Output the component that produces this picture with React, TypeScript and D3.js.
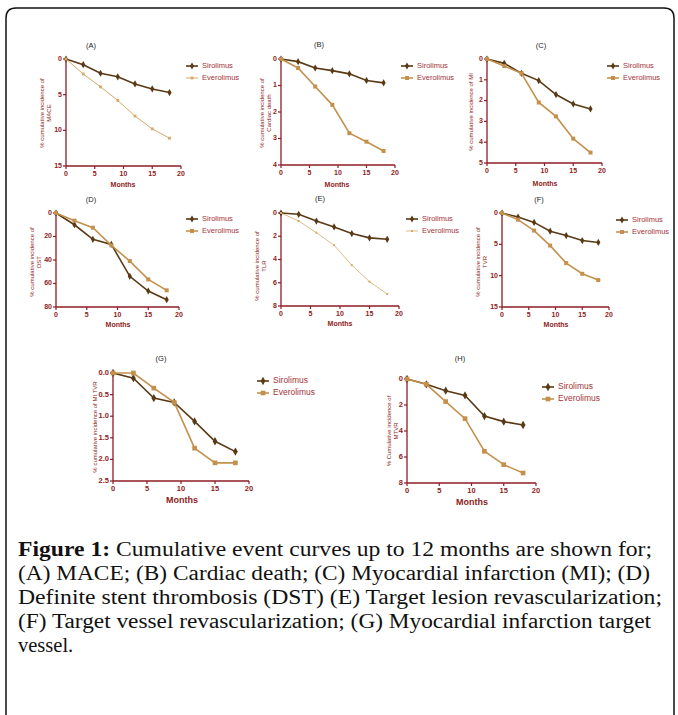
import React from "react";
import * as d3 from "d3";

const months = [0, 3, 6, 9, 12, 15, 18];
const xTicks = [0, 5, 10, 15, 20];

const panelIds = ["A", "B", "C", "D", "E", "F", "G", "H"];
const yLabels: string[][] = [
  ["% cumulative incidence of", "MACE"],
  ["% cumulative incidence of", "Cardiac death"],
  ["% cumulative incidence of MI"],
  ["% cumulative incidence of", "DST"],
  ["% cumulative incidence of", "TLR"],
  ["% cumulative incidence of", "TVR"],
  ["% cumulative incidence of MI TVR"],
  ["% Cumulative incidence of", "MTVR"],
];
const yMaxes = [15, 4, 5, 80, 8, 15, 2.5, 8];
const yTickLists: number[][] = [
  [0, 5, 10, 15],
  [0, 1, 2, 3, 4],
  [0, 1, 2, 3, 4, 5],
  [0, 20, 40, 60, 80],
  [0, 2, 4, 6, 8],
  [0, 5, 10, 15],
  [0, 0.5, 1, 1.5, 2, 2.5],
  [0, 2, 4, 6, 8],
];

const sirolimus: number[][] = [
  [0, 0.8, 2.0, 2.5, 3.5, 4.2, 4.7],
  [0, 0.1, 0.34, 0.44, 0.56, 0.81, 0.9],
  [0, 0.21, 0.69, 1.04, 1.71, 2.16, 2.4],
  [0, 10, 22.4, 26.7, 53.9, 66.4, 73.8],
  [0, 0.11, 0.69, 1.2, 1.77, 2.14, 2.26],
  [0, 0.64, 1.5, 2.9, 3.6, 4.4, 4.7],
  [0, 0.12, 0.58, 0.68, 1.12, 1.58, 1.82],
  [0, 0.41, 0.9, 1.26, 2.85, 3.28, 3.54],
];
const everolimus: number[][] = [
  [0, 2.1, 3.9, 5.8, 8.0, 9.8, 11.1],
  [0, 0.34, 1.04, 1.73, 2.8, 3.12, 3.47],
  [0, 0.34, 0.69, 2.09, 2.76, 3.83, 4.5],
  [0, 6.5, 12.5, 27.5, 40.9, 56.5, 65.8],
  [0, 0.69, 1.69, 2.77, 4.49, 5.91, 6.97],
  [0, 1.06, 2.8, 5.2, 8.0, 9.7, 10.7],
  [0, 0, 0.35, 0.68, 1.74, 2.08, 2.08],
  [0, 0.41, 1.74, 3.05, 5.56, 6.59, 7.23],
];
const seriesNames = ["Sirolimus", "Everolimus"];

const captionLines = [
  ["Figure 1:", " Cumulative event curves up to 12 months are shown for;"],
  ["", "(A) MACE; (B) Cardiac death; (C) Myocardial infarction (MI); (D)"],
  ["", "Definite stent thrombosis (DST) (E) Target lesion revascularization;"],
  ["", "(F) Target vessel revascularization; (G) Myocardial infarction target"],
  ["", "vessel."],
];

type Layout = {
  xL: number; xR: number; yT: number; yB: number;
  tx: number; ty: number; lx: number; ly: number;
  ylx: number; yly: number; mx: number; my: number;
  big?: boolean; thinEv?: boolean;
};
const layouts: Layout[] = [
  { xL: 66, xR: 181, yT: 59, yB: 166, tx: 91, ty: 46, lx: 192, ly: 66, ylx: 42, yly: 113, mx: 123, my: 185, thinEv: true },
  { xL: 281, xR: 395, yT: 59, yB: 165, tx: 319, ty: 45, lx: 407, ly: 66, ylx: 262, yly: 113, mx: 337, my: 185 },
  { xL: 487, xR: 602, yT: 59, yB: 163, tx: 541, ty: 46, lx: 613, ly: 66, ylx: 471, yly: 112, mx: 545, my: 184 },
  { xL: 56, xR: 179, yT: 213, yB: 307, tx: 91, ty: 200, lx: 192, ly: 219, ylx: 32, yly: 262, mx: 118, my: 325 },
  { xL: 281, xR: 399, yT: 213, yB: 306, tx: 320, ty: 199, lx: 412, ly: 219, ylx: 257, yly: 266, mx: 340, my: 324, thinEv: true },
  { xL: 502, xR: 609, yT: 213, yB: 307, tx: 539, ty: 200, lx: 622, ly: 220, ylx: 478, yly: 262, mx: 556, my: 325 },
  { xL: 113, xR: 249, yT: 373, yB: 481, tx: 161, ty: 359, lx: 263, ly: 381, ylx: 95, yly: 427, mx: 182, my: 501, big: true },
  { xL: 407, xR: 536, yT: 379, yB: 483, tx: 460, ty: 359, lx: 548, ly: 387, ylx: 389, yly: 431, mx: 472, my: 503, big: true },
];

const AX = "#8e1c22";
const SIR = "#5a3a16";
const EVE = "#c4914d";
const NARROW = "'Liberation Sans Narrow', 'Liberation Sans', Arial, sans-serif";

function Panel({ i }: { i: number }) {
  const L = layouts[i];
  const x = d3.scaleLinear().domain([0, 20]).range([L.xL, L.xR]);
  const y = d3.scaleLinear().domain([0, yMaxes[i]]).range([L.yT, L.yB]);
  const line = d3.line<number>().x((_, k) => x(months[k])).y((v) => y(v));
  const diamond = d3.symbol().type(d3.symbolDiamond).size(L.big ? 20 : 15)();
  const square = d3.symbol().type(d3.symbolSquare).size(L.big ? 22 : 16)();
  const smallSq = d3.symbol().type(d3.symbolSquare).size(i === 4 ? 4 : 8)();
  const evMarker = L.thinEv ? smallSq : square;
  const evW = L.thinEv ? (i === 4 ? 0.8 : 1) : 1.6;
  const evC = L.thinEv ? "#d6a96a" : EVE;
  const fmt = i === 6 ? d3.format(".1f") : d3.format("d");
  const tickFs = L.big ? 7.5 : 7;
  return (
    <g>
      <text x={L.tx} y={L.ty} fontSize={7.5} fontFamily="'Liberation Sans', Arial" fill="#222" textAnchor="middle" dominantBaseline="middle">({panelIds[i]})</text>
      <line x1={L.xL} x2={L.xL} y1={L.yT - 1} y2={L.yB} stroke={AX} strokeWidth={1.3} />
      <line x1={L.xL} x2={L.xR} y1={L.yB} y2={L.yB} stroke={AX} strokeWidth={1.3} />
      {yTickLists[i].map((t) => (
        <g key={"y" + t}>
          <line x1={L.xL - 3} x2={L.xL} y1={y(t)} y2={y(t)} stroke={AX} strokeWidth={1.2} />
          <text x={L.xL - 4} y={y(t)} fontSize={tickFs} fontWeight="bold" fontFamily={NARROW} fill={AX} textAnchor="end" dominantBaseline="middle">{fmt(t)}</text>
        </g>
      ))}
      {xTicks.map((t) => (
        <g key={"x" + t}>
          <line x1={x(t)} x2={x(t)} y1={L.yB} y2={L.yB + 3} stroke={AX} strokeWidth={1.2} />
          <text x={x(t)} y={L.yB + 8} fontSize={tickFs} fontWeight="bold" fontFamily={NARROW} fill={AX} textAnchor="middle" dominantBaseline="middle">{t}</text>
        </g>
      ))}
      <text x={L.mx} y={L.my} fontSize={L.big ? 9 : 7} fontWeight="bold" fontFamily={NARROW} fill={AX} textAnchor="middle" dominantBaseline="middle">Months</text>
      <g transform={`translate(${L.ylx},${L.yly}) rotate(-90)`}>
        {yLabels[i].map((s, k) => (
          <text key={k} x={0} y={k * 7.5} fontSize={6} fontFamily={NARROW} fill={AX} textAnchor="middle" dominantBaseline="middle">{s}</text>
        ))}
      </g>
      <path d={line(sirolimus[i]) || ""} fill="none" stroke={SIR} strokeWidth={1.6} />
      {sirolimus[i].map((v, k) => (
        <path key={"s" + k} d={diamond || ""} transform={`translate(${x(months[k])},${y(v)})`} fill={SIR} />
      ))}
      <path d={line(everolimus[i]) || ""} fill="none" stroke={evC} strokeWidth={evW} />
      {everolimus[i].map((v, k) => (
        <path key={"e" + k} d={evMarker || ""} transform={`translate(${x(months[k])},${y(v)})`} fill={evC} />
      ))}
      {seriesNames.map((n, k) => (
        <g key={n} transform={`translate(${L.lx},${L.ly + k * 12})`}>
          <line x1={-6} x2={6} y1={0} y2={0} stroke={k === 0 ? SIR : evC} strokeWidth={k === 0 ? 1.6 : evW} />
          <path d={(k === 0 ? diamond : evMarker) || ""} fill={k === 0 ? SIR : evC} />
          <text x={10} y={0} fontSize={L.big ? 8.5 : 7.5} fontFamily={NARROW} fill="#a3343a" dominantBaseline="middle">{n}</text>
        </g>
      ))}
    </g>
  );
}

const captionWidths = [634, 632, 644, 633, 0];
const captionY0 = 556;

export default function App() {
  return (
    <svg width={678} height={715} style={{ position: "absolute", left: 0, top: 0, background: "#fff" }}>
      <rect x={0} y={0} width={678} height={715} fill="#fff" />
      <path d="M6,715 L6,18 Q6,8 16,8 L664,8 Q674,8 674,18 L674,715" fill="none" stroke="#111" strokeWidth={1.5} />
      {panelIds.map((_, i) => <Panel key={i} i={i} />)}
      {captionLines.map((ln, k) => (
        <text key={k} x={18} y={captionY0 + k * 24} fontSize={20.5} fontFamily="'Liberation Serif', 'Times New Roman', serif" fill="#111"
          {...(captionWidths[k] ? { textLength: captionWidths[k], lengthAdjust: "spacingAndGlyphs" } : {})}>
          {ln[0] && <tspan fontWeight="bold">{ln[0]}</tspan>}
          <tspan>{ln[1]}</tspan>
        </text>
      ))}
    </svg>
  );
}
